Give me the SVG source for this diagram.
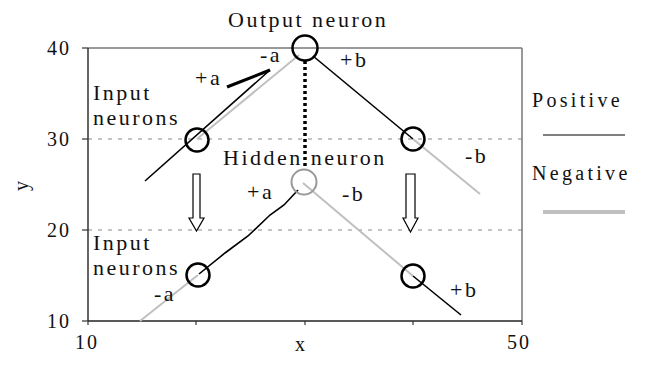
<svg xmlns="http://www.w3.org/2000/svg" width="648" height="365" viewBox="0 0 648 365" font-family="'Liberation Serif','DejaVu Serif','Times New Roman',serif">
<style>
text{font-family:'Liberation Serif','DejaVu Serif','Times New Roman',serif;fill:#111}
.lbl{font-size:22px;letter-spacing:2.5px}
.tick{font-size:20px;letter-spacing:2px}
.leg{font-size:20px;letter-spacing:3.3px}
.grid{stroke:#888;stroke-width:1;stroke-dasharray:4 6}
.pos{stroke:#000;stroke-width:1.6;fill:none}
.neg{stroke:#c0c0c0;stroke-width:2;fill:none}
.neuron{fill:none;stroke:#000;stroke-width:2.5}
.arrow{fill:#fff;stroke:#000;stroke-width:1.2}
</style>
<rect width="648" height="365" fill="#fff"/>
<g id="axes">
<line class="grid" x1="88" y1="139" x2="522" y2="139"/>
<line class="grid" x1="88" y1="230" x2="522" y2="230"/>
<line x1="88" y1="48" x2="522" y2="48" stroke="#777" stroke-width="1.5"/>
<line x1="522" y1="48" x2="522" y2="321" stroke="#777" stroke-width="1.5"/>
<line x1="88" y1="48" x2="88" y2="321" stroke="#333" stroke-width="1.5"/>
<line x1="88" y1="321" x2="522" y2="321" stroke="#222" stroke-width="1.5"/>
<g stroke="#333" stroke-width="1.2">
<line x1="82" y1="48" x2="88" y2="48"/><line x1="82" y1="139" x2="88" y2="139"/>
<line x1="82" y1="230" x2="88" y2="230"/><line x1="82" y1="321" x2="88" y2="321"/>
<line x1="88" y1="321" x2="88" y2="325"/><line x1="196" y1="321" x2="196" y2="325"/>
<line x1="305" y1="321" x2="305" y2="325"/><line x1="413" y1="321" x2="413" y2="325"/>
<line x1="522" y1="321" x2="522" y2="325"/>
</g>
<text class="tick" x="47" y="55">40</text>
<text class="tick" x="47" y="146">30</text>
<text class="tick" x="47" y="237">20</text>
<text class="tick" x="47" y="328">10</text>
<text class="tick" x="75" y="349">10</text>
<text class="tick" x="507" y="349">50</text>
<text class="tick" x="295" y="351">x</text>
<text class="tick" transform="translate(28,191) rotate(-90)">y</text>
</g>
<g id="connectors">
<line class="neg" x1="197" y1="139" x2="299" y2="55"/>
<line class="pos" x1="145" y1="181" x2="270" y2="70" stroke-width="2"/>
<line x1="227" y1="87" x2="270" y2="70" stroke="#000" stroke-width="3"/>
<line class="pos" x1="313" y1="56" x2="413" y2="139"/>
<line class="neg" x1="413" y1="139" x2="480" y2="194"/>
<line x1="305" y1="61" x2="305" y2="170" stroke="#000" stroke-width="3.5" stroke-dasharray="3 3"/>
<line class="neg" x1="140" y1="321" x2="198" y2="275"/>
<polyline class="pos" points="199,274 225,253 248,236 270,215 284,205 298,190"/>
<line class="neg" x1="303" y1="183" x2="413" y2="276"/>
<line class="pos" x1="413" y1="276" x2="461" y2="315" stroke-width="2.5"/>
<path class="arrow" d="M193,174 H200 V218 H204 L196.5,231 L189,218 H193 Z"/>
<path class="arrow" d="M406,174 H415 V218 H418 L410.5,232 L403,218 H406 Z"/>
</g>
<g id="output-neuron">
<circle class="neuron" cx="305" cy="48" r="12.5" stroke-width="3"/>
<text class="lbl" x="228" y="27">Output neuron</text>
</g>
<g id="hidden-neuron">
<circle cx="304" cy="182" r="12.5" fill="none" stroke="#999" stroke-width="2"/>
<text class="lbl" x="223" y="165">Hidden neuron</text>
</g>
<g id="input-upper-left">
<circle class="neuron" cx="197" cy="140" r="11.5"/>
<text class="lbl" x="93" y="100">Input</text>
<text class="lbl" x="93" y="125">neurons</text>
</g>
<g id="input-upper-right">
<circle class="neuron" cx="413" cy="139" r="11.5"/>
</g>
<g id="input-lower-left">
<circle class="neuron" cx="198" cy="275" r="11.5"/>
<text class="lbl" x="93" y="250">Input</text>
<text class="lbl" x="93" y="275">neurons</text>
</g>
<g id="input-lower-right">
<circle class="neuron" cx="413" cy="276" r="11.5"/>
</g>
<g id="weights">
<text class="lbl" x="195" y="85">+a</text>
<text class="lbl" x="260" y="62">-a</text>
<text class="lbl" x="340" y="67">+b</text>
<text class="lbl" x="465" y="163">-b</text>
<text class="lbl" x="247" y="199">+a</text>
<text class="lbl" x="342" y="201">-b</text>
<text class="lbl" x="154" y="301">-a</text>
<text class="lbl" x="450" y="297">+b</text>
</g>
<g id="legend">
<text class="leg" x="532" y="107">Positive</text>
<line x1="543" y1="135" x2="625" y2="135" stroke="#000" stroke-width="1.2"/>
<text class="leg" x="532" y="180">Negative</text>
<line x1="543" y1="212" x2="625" y2="212" stroke="#c0c0c0" stroke-width="4"/>
</g>
</svg>
